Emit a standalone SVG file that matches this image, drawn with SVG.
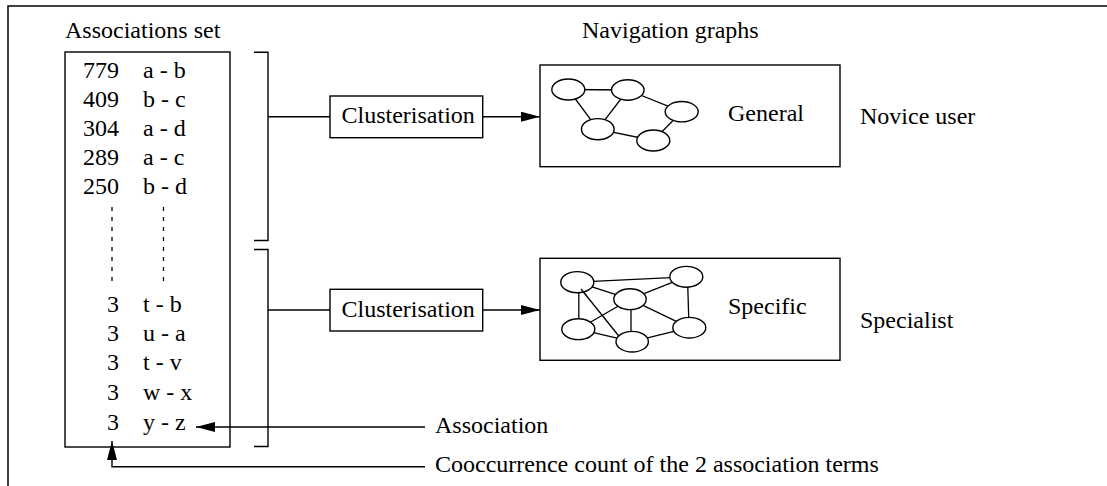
<svg xmlns="http://www.w3.org/2000/svg" width="1107" height="486" viewBox="0 0 1107 486">
  <style>
    text { font-family: "Liberation Serif", "Times New Roman", serif; font-size: 24px; fill: #000; }
    .box { fill: #fff; stroke: #000; stroke-width: 1.4; }
    .frame { fill: none; stroke: #000; stroke-width: 1.5; }
    .ln { fill: none; stroke: #000; stroke-width: 1.4; }
    .dot { fill: none; stroke: #000; stroke-width: 1.3; stroke-dasharray: 4 6; }
    .nd { fill: #fff; stroke: #000; stroke-width: 1.4; }
    .ed { stroke: #000; stroke-width: 1.3; }
    .num { text-anchor: end; }
  </style>
  <defs>
    <marker id="arrow" markerUnits="userSpaceOnUse" viewBox="0 0 19 10" refX="19" refY="5" markerWidth="19" markerHeight="10" orient="auto">
      <path d="M0,0 L19,5 L0,10 z" fill="#000"/>
    </marker>
  </defs>

  <rect width="1107" height="486" fill="#fff"/>
  <!-- outer frame -->
  <rect class="frame" x="8" y="6" width="1110" height="490"/>

  <!-- titles -->
  <text x="65" y="38">Associations set</text>
  <text x="582" y="38">Navigation graphs</text>

  <!-- association list -->
  <g id="associations">
    <rect class="box" x="65" y="52" width="165" height="395"/>
    <text class="num" x="119" y="78">779</text><text x="143" y="78">a - b</text>
    <text class="num" x="119" y="107">409</text><text x="143" y="107">b - c</text>
    <text class="num" x="119" y="136">304</text><text x="143" y="136">a - d</text>
    <text class="num" x="119" y="165">289</text><text x="143" y="165">a - c</text>
    <text class="num" x="119" y="194">250</text><text x="143" y="194">b - d</text>
    <line class="dot" x1="112" y1="207" x2="112" y2="287"/>
    <line class="dot" x1="163.5" y1="207" x2="163.5" y2="287"/>
    <text class="num" x="119" y="312">3</text><text x="143" y="312">t - b</text>
    <text class="num" x="119" y="341">3</text><text x="143" y="341">u - a</text>
    <text class="num" x="119" y="370">3</text><text x="143" y="370">t - v</text>
    <text class="num" x="119" y="400">3</text><text x="143" y="400">w - x</text>
    <text class="num" x="119" y="430">3</text><text x="143" y="430">y - z</text>
  </g>

  <!-- grouping brackets -->
  <g id="bracket-top">
    <polyline class="ln" points="254,52.3 268,52.3 268,240.5 254,240.5"/>
  </g>
  <g id="bracket-bottom">
    <polyline class="ln" points="254,249.5 268,249.5 268,446.5 254,446.5"/>
  </g>

  <!-- clustering steps -->
  <g id="cluster-1">
    <rect class="box" x="330" y="96" width="152.7" height="41.7"/>
    <text x="341.5" y="123.3">Clusterisation</text>
  </g>
  <g id="cluster-2">
    <rect class="box" x="330" y="289.3" width="152.7" height="41.7"/>
    <text x="341.5" y="316.6">Clusterisation</text>
  </g>

  <!-- general navigation graph -->
  <g id="graph-general">
    <rect class="box" x="540" y="65" width="300" height="101.7"/>
    <line class="ed" x1="568.3" y1="89.5" x2="627.8" y2="90"/>
    <line class="ed" x1="568.3" y1="89.5" x2="597.8" y2="129.2"/>
    <line class="ed" x1="627.8" y1="90" x2="597.8" y2="129.2"/>
    <line class="ed" x1="627.8" y1="90" x2="681.7" y2="111.7"/>
    <line class="ed" x1="597.8" y1="129.2" x2="653.3" y2="140.5"/>
    <line class="ed" x1="653.3" y1="140.5" x2="681.7" y2="111.7"/>
    <ellipse class="nd" cx="568.3" cy="89.5" rx="16.5" ry="10.5"/>
    <ellipse class="nd" cx="627.8" cy="90" rx="16.3" ry="10.2"/>
    <ellipse class="nd" cx="681.7" cy="111.7" rx="16.5" ry="10.2"/>
    <ellipse class="nd" cx="597.8" cy="129.2" rx="16.3" ry="10.6"/>
    <ellipse class="nd" cx="653.3" cy="140.5" rx="16.5" ry="10.5"/>
    <text x="728" y="120.7">General</text>
  </g>

  <!-- specific navigation graph -->
  <g id="graph-specific">
    <rect class="box" x="540" y="258.3" width="300" height="102"/>
    <line class="ed" x1="577.3" y1="282.2" x2="686.3" y2="276.8"/>
    <line class="ed" x1="577.3" y1="282.2" x2="630" y2="299.2"/>
    <line class="ed" x1="578.8" y1="290" x2="578.8" y2="320"/>
    <line class="ed" x1="581" y1="289" x2="622" y2="340"/>
    <line class="ed" x1="630" y1="299.2" x2="578.3" y2="329.2"/>
    <line class="ed" x1="631" y1="299.2" x2="631" y2="341.7"/>
    <line class="ed" x1="630" y1="299.2" x2="689.3" y2="327.7"/>
    <line class="ed" x1="630" y1="299.2" x2="686.3" y2="276.8"/>
    <line class="ed" x1="687.5" y1="276.8" x2="689" y2="327.7"/>
    <line class="ed" x1="578.3" y1="329.2" x2="632.2" y2="341.7"/>
    <line class="ed" x1="632.2" y1="341.7" x2="689.3" y2="327.7"/>
    <ellipse class="nd" cx="577.3" cy="282.2" rx="16.5" ry="10.6"/>
    <ellipse class="nd" cx="686.3" cy="276.8" rx="16.5" ry="10.4"/>
    <ellipse class="nd" cx="630" cy="299.2" rx="16.2" ry="10.4"/>
    <ellipse class="nd" cx="578.3" cy="329.2" rx="16.5" ry="10.4"/>
    <ellipse class="nd" cx="632.2" cy="341.7" rx="16.2" ry="10.3"/>
    <ellipse class="nd" cx="689.3" cy="327.7" rx="16.5" ry="10.3"/>
    <line class="ed" x1="581" y1="289" x2="586" y2="295.2"/>
    <text x="728" y="314">Specific</text>
  </g>

  <!-- user profiles -->
  <g id="novice"><text x="860" y="124">Novice user</text></g>
  <g id="specialist"><text x="860" y="328">Specialist</text></g>

  <!-- legend labels -->
  <g id="label-association"><text x="435" y="433.3">Association</text></g>
  <g id="label-count"><text x="435" y="472">Cooccurrence count of the 2 association terms</text></g>

  <!-- connectors -->
  <g id="connectors">
    <line class="ln" x1="268" y1="116.7" x2="330" y2="116.7"/>
    <line class="ln" x1="268" y1="310" x2="330" y2="310"/>
    <line class="ln" x1="482.7" y1="116.7" x2="540" y2="116.7" marker-end="url(#arrow)"/>
    <line class="ln" x1="482.7" y1="310" x2="540" y2="310" marker-end="url(#arrow)"/>
    <line class="ln" x1="425" y1="427" x2="196" y2="427" marker-end="url(#arrow)"/>
    <polyline class="ln" points="425,466.7 112,466.7 112,441" marker-end="url(#arrow)"/>
  </g>
</svg>
